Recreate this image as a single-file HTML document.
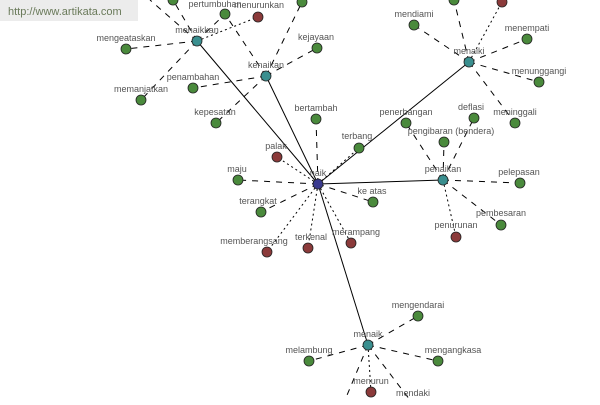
<!DOCTYPE html>
<html><head><style>
body{margin:0;background:#fff;width:600px;height:400px;overflow:hidden}
svg text{font-family:"Liberation Sans",sans-serif;font-size:9px;fill:#555;text-anchor:middle}
</style></head><body>
<svg width="600" height="400" xmlns="http://www.w3.org/2000/svg">
<g stroke="#000" stroke-width="1" fill="none">
<line x1="318" y1="184" x2="197" y2="41"/>
<line x1="318" y1="184" x2="266" y2="76"/>
<line x1="318" y1="184" x2="469" y2="62"/>
<line x1="318" y1="184" x2="443" y2="180"/>
<line x1="318" y1="184" x2="368" y2="345"/>
</g>
<g stroke="#000" stroke-width="1" stroke-dasharray="6,6">
<line x1="197" y1="41" x2="173" y2="0"/>
<line x1="197" y1="41" x2="150" y2="0"/>
<line x1="197" y1="41" x2="225" y2="14"/>
<line x1="197" y1="41" x2="126" y2="49"/>
<line x1="197" y1="41" x2="141" y2="100"/>
<line x1="266" y1="76" x2="225" y2="14"/>
<line x1="266" y1="76" x2="302" y2="2"/>
<line x1="266" y1="76" x2="317" y2="48"/>
<line x1="266" y1="76" x2="193" y2="88"/>
<line x1="266" y1="76" x2="216" y2="123"/>
<line x1="469" y1="62" x2="454" y2="0"/>
<line x1="469" y1="62" x2="414" y2="25"/>
<line x1="469" y1="62" x2="527" y2="39"/>
<line x1="469" y1="62" x2="539" y2="82"/>
<line x1="469" y1="62" x2="515" y2="123"/>
<line x1="318" y1="184" x2="316" y2="119"/>
<line x1="318" y1="184" x2="238" y2="180"/>
<line x1="318" y1="184" x2="373" y2="202"/>
<line x1="318" y1="184" x2="261" y2="212"/>
<line x1="443" y1="180" x2="406" y2="123"/>
<line x1="443" y1="180" x2="444" y2="142"/>
<line x1="443" y1="180" x2="474" y2="118"/>
<line x1="443" y1="180" x2="520" y2="183"/>
<line x1="443" y1="180" x2="501" y2="225"/>
<line x1="368" y1="345" x2="418" y2="316"/>
<line x1="368" y1="345" x2="309" y2="361"/>
<line x1="368" y1="345" x2="438" y2="361"/>
<line x1="368" y1="345" x2="410" y2="400"/>
<line x1="368" y1="345" x2="345" y2="400"/>
</g>
<g stroke="#000" stroke-width="1" stroke-dasharray="2,3">
<line x1="197" y1="41" x2="258" y2="17"/>
<line x1="469" y1="62" x2="502" y2="2"/>
<line x1="318" y1="184" x2="277" y2="157"/>
<line x1="318" y1="184" x2="359" y2="148"/>
<line x1="318" y1="184" x2="267" y2="252"/>
<line x1="318" y1="184" x2="308" y2="248"/>
<line x1="318" y1="184" x2="351" y2="243"/>
<line x1="443" y1="180" x2="456" y2="237"/>
<line x1="368" y1="345" x2="371" y2="392"/>
</g>
<g stroke="#222" stroke-width="0.8" fill="#4a8a3c">
<circle cx="173" cy="0" r="5"/><circle cx="225" cy="14" r="5"/><circle cx="302" cy="2" r="5"/>
<circle cx="126" cy="49" r="5"/><circle cx="317" cy="48" r="5"/><circle cx="193" cy="88" r="5"/>
<circle cx="141" cy="100" r="5"/><circle cx="216" cy="123" r="5"/><circle cx="316" cy="119" r="5"/>
<circle cx="454" cy="0" r="5"/><circle cx="414" cy="25" r="5"/><circle cx="527" cy="39" r="5"/>
<circle cx="539" cy="82" r="5"/><circle cx="515" cy="123" r="5"/><circle cx="474" cy="118" r="5"/>
<circle cx="406" cy="123" r="5"/><circle cx="444" cy="142" r="5"/><circle cx="359" cy="148" r="5"/>
<circle cx="238" cy="180" r="5"/><circle cx="373" cy="202" r="5"/><circle cx="261" cy="212" r="5"/>
<circle cx="520" cy="183" r="5"/><circle cx="501" cy="225" r="5"/><circle cx="418" cy="316" r="5"/>
<circle cx="309" cy="361" r="5"/><circle cx="438" cy="361" r="5"/>
</g>
<g stroke="#222" stroke-width="0.8" fill="#8b3a3a">
<circle cx="258" cy="17" r="5"/><circle cx="502" cy="2" r="5"/><circle cx="277" cy="157" r="5"/>
<circle cx="267" cy="252" r="5"/><circle cx="308" cy="248" r="5"/><circle cx="351" cy="243" r="5"/>
<circle cx="456" cy="237" r="5"/><circle cx="371" cy="392" r="5"/>
</g>
<g stroke="#222" stroke-width="0.8" fill="#3a8f8f">
<circle cx="197" cy="41" r="5"/><circle cx="266" cy="76" r="5"/><circle cx="469" cy="62" r="5"/>
<circle cx="443" cy="180" r="5"/><circle cx="368" cy="345" r="5"/>
</g>
<circle cx="318" cy="184" r="5" fill="#3a3a8f" stroke="#222" stroke-width="0.8"/>
<g>
<text x="215" y="7">pertumbuhan</text><text x="259" y="8">menurunkan</text>
<text x="197" y="33">menaikkan</text><text x="126" y="41">mengeataskan</text>
<text x="316" y="40">kejayaan</text><text x="266" y="68">kenaikan</text>
<text x="193" y="80">penambahan</text><text x="141" y="92">memanjatkan</text>
<text x="215" y="115">kepesatan</text><text x="316" y="111">bertambah</text>
<text x="414" y="17">mendiami</text><text x="527" y="31">menempati</text>
<text x="469" y="54">menaiki</text><text x="539" y="74">menunggangi</text>
<text x="515" y="115">meninggali</text><text x="471" y="110">deflasi</text>
<text x="406" y="115">penerbangan</text><text x="451" y="134">pengibaran (bendera)</text>
<text x="357" y="139">terbang</text><text x="276" y="149">palak</text>
<text x="318" y="176">naik</text><text x="237" y="172">maju</text>
<text x="372" y="194">ke atas</text><text x="258" y="204">terangkat</text>
<text x="443" y="172">penaikan</text><text x="519" y="175">pelepasan</text>
<text x="501" y="216">pembesaran</text><text x="456" y="228">penurunan</text>
<text x="254" y="244">memberangsang</text><text x="311" y="240">terkenal</text>
<text x="356" y="235">merampang</text><text x="418" y="308">mengendarai</text>
<text x="368" y="337">menaik</text><text x="309" y="353">melambung</text>
<text x="453" y="353">mengangkasa</text><text x="371" y="384">menurun</text>
<text x="413" y="396">mendaki</text>
</g>
<rect x="0" y="0" width="138" height="21" fill="#ececec"/>
<text x="8" y="15" style="text-anchor:start;font-size:11px;fill:#6a7a5a">http://www.artikata.com</text>
</svg>
</body></html>
